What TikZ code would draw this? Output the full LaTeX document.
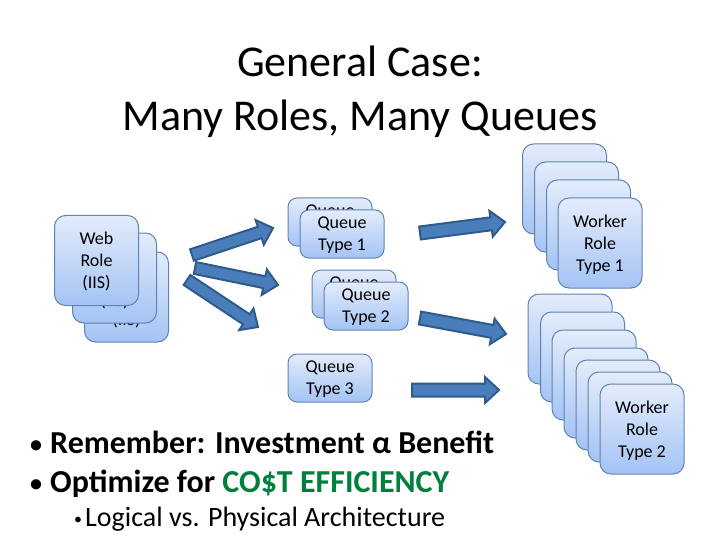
\documentclass[tikz,border=0pt]{standalone}
\usepackage{fontspec}
\setmainfont{Carlito}
\usepackage{tikz}
\usetikzlibrary{calc}
\usetikzlibrary{positioning}

\definecolor{boxtop}{HTML}{E3ECFB}
\definecolor{boxbottom}{HTML}{A4C3F4}
\definecolor{boxline}{HTML}{5F84AE}
\definecolor{arrowfill}{HTML}{4A7EBB}
\definecolor{arrowline}{HTML}{2F5A8C}
\definecolor{costgreen}{HTML}{00803C}

\tikzset{
	rolebox/.style={draw=boxline, line width=1pt, rounded corners=11pt, top color=boxtop, bottom color=boxbottom,
		minimum width=84pt, minimum height=90pt, inner sep=0pt, align=center, font=\fontsize{18}{22}\selectfont,
		text depth=-4pt},
	queuebox/.style={rolebox, rounded corners=9pt, minimum height=48pt},
	bluearrow/.style={draw=arrowline, line width=2pt, fill=arrowfill, line join=miter},
	bullet/.style={anchor=base west, inner sep=0pt},
}

\newcommand{\blockarrow}[3]{
	\coordinate (h) at ($(#2)!14pt!(#1)$);
	\draw[bluearrow] ($(#1)!#3!90:(#2)$) -- ($(h)!#3!-90:(#1)$) -- ($(h)!13pt!-90:(#1)$) -- (#2)
		-- ($(h)!13pt!90:(#1)$) -- ($(h)!#3!90:(#1)$) -- ($(#1)!#3!-90:(#2)$) -- cycle;
}
\newcommand{\dotmark}[3]{\makebox[#1][l]{\raisebox{#3}{\fontsize{#2}{#2}\selectfont•}}}

\begin{document}
\begin{tikzpicture}[x=1pt,y=-1pt]
			
			\useasboundingbox (0,0) rectangle (720,540);
			
			
			\node (title) at (360,92) [align=center, font=\fontsize{44}{54}\selectfont] {General Case:\\Many Roles, Many Queues};
			
			
			\node (web3) at (126.5,297) [rolebox] {Web\\Role\\(IIS)};
			\node (web2) at (114.5,278) [rolebox] {Web\\Role\\(IIS)};
			\node (web1) at (96.5,260.5) [rolebox] {Web\\Role\\(IIS)};
			
			
			\node (queue1b) at (330,222) [queuebox] {Queue\\Type 1};
			\node (queue1) at (342,234) [queuebox] {Queue\\Type 1};
			\node (queue2b) at (354,294) [queuebox] {Queue\\Type 2};
			\node (queue2) at (366,306) [queuebox] {Queue\\Type 2};
			\node (queue3) at (330,378) [queuebox] {Queue\\Type 3};
			
			
			\foreach \i/\x/\y in {1/564.5/189, 2/576.5/207, 3/588.5/225}
				\node (workerone\i) at (\x,\y) [rolebox] {};
			\node (workerone) at (600,243) [rolebox] {Worker\\Role\\Type 1};
			
			\foreach \i/\x/\y in {1/570/339, 2/582.5/357, 3/594/375, 4/606/393, 5/618/405, 6/630/417}
				\node (workertwo\i) at (\x,\y) [rolebox] {};
			\node (workertwo) at (642,429) [rolebox] {Worker\\Role\\Type 2};
			
			
			\coordinate (a1) at (192,255);
			\coordinate (b1) at (273,228);
			\coordinate (a2) at (195,268);
			\coordinate (b2) at (278,285);
			\coordinate (a3) at (187,280);
			\coordinate (b3) at (258,327);
			\blockarrow{a1}{b1}{6pt}
			\blockarrow{a2}{b2}{6pt}
			\blockarrow{a3}{b3}{6pt}
			
			\coordinate (c1) at (420,233);
			\coordinate (d1) at (505,222);
			\coordinate (c2) at (420,318);
			\coordinate (d2) at (506,334);
			\coordinate (c3) at (412,390);
			\coordinate (d3) at (499,390);
			\blockarrow{c1}{d1}{6.5pt}
			\blockarrow{c2}{d2}{6.5pt}
			\blockarrow{c3}{d3}{6.5pt}
			
			
			\node (line1) at (30,453) [bullet, font=\fontsize{32}{38}\selectfont\bfseries] {\dotmark{20pt}{24}{1pt}Remember: Investment α Benefit};
			\node (line2) at (30,492) [bullet, font=\fontsize{32}{38}\selectfont\bfseries] {\dotmark{20pt}{24}{1pt}Optimize for \textcolor{costgreen}{CO\$T EFFICIENCY}};
			\node (line3) at (74,526) [bullet, font=\fontsize{28}{32}\selectfont] {\dotmark{11pt}{16}{2pt}Logical vs. Physical Architecture};
			
		\end{tikzpicture}
\end{document}
